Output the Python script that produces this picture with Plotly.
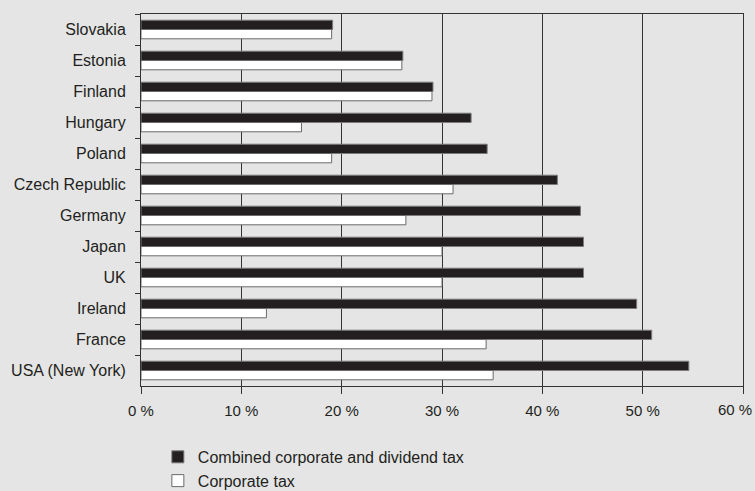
import plotly.graph_objects as go

countries = ["Slovakia", "Estonia", "Finland", "Hungary", "Poland", "Czech Republic",
             "Germany", "Japan", "UK", "Ireland", "France", "USA (New York)"]
combined = [19.1, 26.1, 29.1, 32.9, 34.5, 41.5, 43.8, 44.1, 44.1, 49.4, 50.9, 54.6]
corporate = [19.0, 26.0, 29.0, 16.0, 19.0, 31.1, 26.4, 30.0, 30.0, 12.5, 34.4, 35.1]
x_ticks = [0, 10, 20, 30, 40, 50, 60]
x_ticklabels = ["0 %", "10 %", "20 %", "30 %", "40 %", "50 %", "60 %"]

FONT = "Liberation Sans"
BG = "#e5e5e5"

fig = go.Figure()
fig.add_trace(go.Bar(
    y=countries, x=combined, orientation="h",
    name="Combined corporate and dividend tax",
    marker=dict(color="#231f20", line=dict(color="#7a7a7a", width=1)),
))
fig.add_trace(go.Bar(
    y=countries, x=corporate, orientation="h",
    name="Corporate tax",
    marker=dict(color="#ffffff", line=dict(color="#6a6a6a", width=1)),
))

# last tick label kept inside the page (right-aligned at the edge)
shown_ticktext = x_ticklabels[:-1] + [""]
fig.add_annotation(
    x=x_ticks[-1], xref="x", y=0, yref="paper",
    text=x_ticklabels[-1], showarrow=False,
    xanchor="right", yanchor="top", xshift=11, yshift=-13,
    font=dict(size=15, family=FONT, color="#231f20"),
)

fig.update_layout(
    width=755, height=491,
    margin=dict(l=141, r=12, t=14, b=105, autoexpand=False),
    paper_bgcolor=BG, plot_bgcolor=BG,
    barmode="group", bargap=0.40, bargroupgap=0,
    font=dict(family=FONT, size=16, color="#231f20"),
    showlegend=True,
    legend=dict(
        orientation="v", x=0.028, xanchor="left", y=-0.145, yanchor="top",
        bgcolor="rgba(0,0,0,0)", font=dict(size=16, family=FONT),
        traceorder="normal", tracegroupgap=0,
    ),
)
fig.update_xaxes(
    range=[0, 60], tickvals=x_ticks, ticktext=shown_ticktext,
    showgrid=True, gridcolor="#333333", gridwidth=1,
    showline=True, linecolor="#333333", linewidth=1, mirror=True,
    ticks="outside", ticklen=7, tickcolor="#333333",
    ticklabelstandoff=4, ticklabeloverflow="allow",
    tickfont=dict(size=15, family=FONT),
    zeroline=False, fixedrange=True,
)
fig.update_yaxes(
    categoryorder="array", categoryarray=countries, autorange="reversed",
    showgrid=False, showline=True, linecolor="#333333", linewidth=1, mirror=True,
    ticks="outside", ticklen=5, tickcolor="#333333", tickson="boundaries",
    ticklabelstandoff=11,
)

fig.write_html(
    "out.html",
    config={"displayModeBar": False},
    post_script="document.body.style.margin='0';document.body.style.padding='0';document.body.style.overflow='hidden';",
)
